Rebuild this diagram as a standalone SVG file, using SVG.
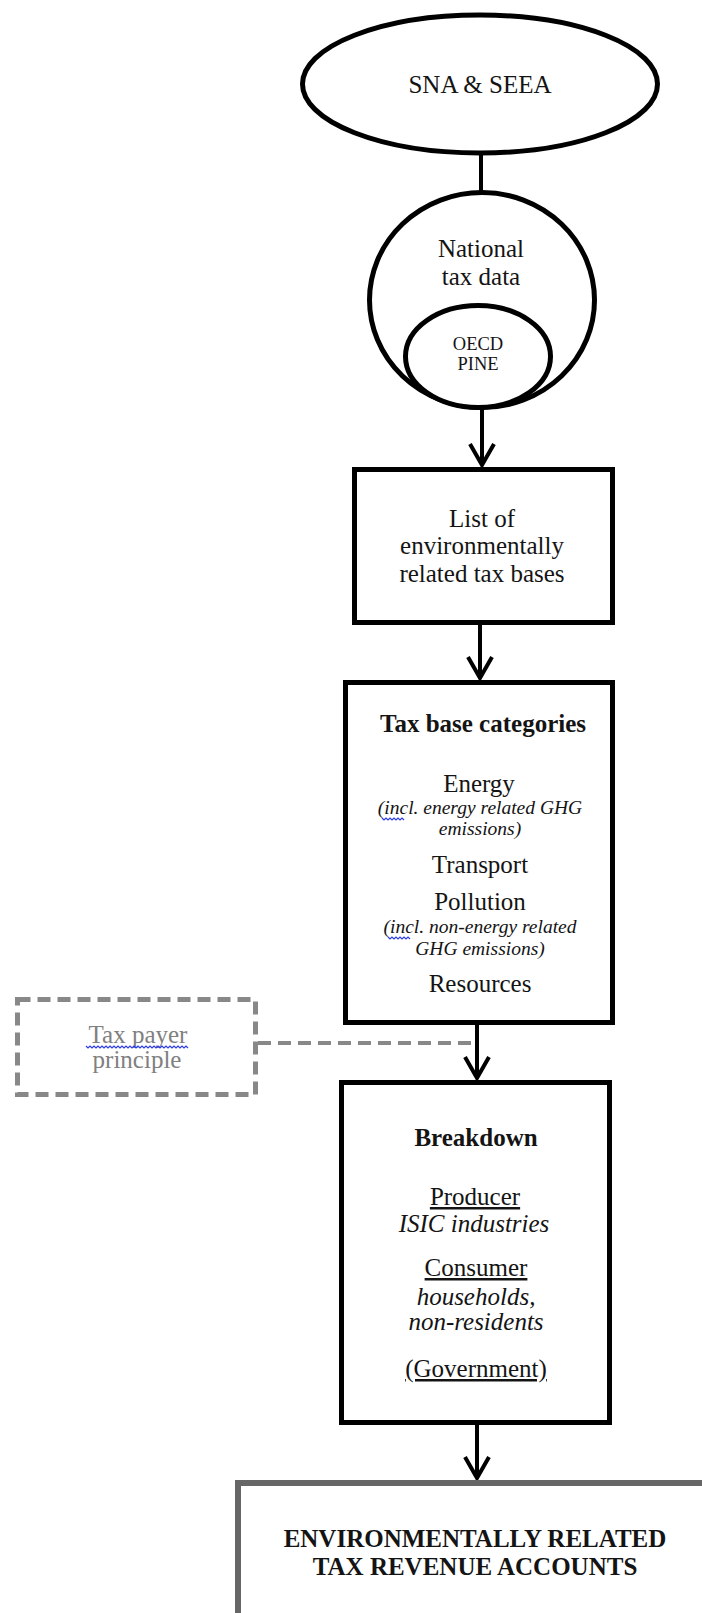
<svg xmlns="http://www.w3.org/2000/svg" width="702" height="1613" viewBox="0 0 702 1613">
<defs>
<style>
.t{font-family:"Liberation Serif","Times New Roman",serif;fill:#141414;text-anchor:middle}
.n{font-size:25px}
.b{font-size:25px;font-weight:bold}
.i{font-size:19.5px;font-style:italic}
.ib{font-size:25px;font-style:italic}
.s{font-size:18.5px}
.g{fill:#808080}
.shape{fill:#fff;stroke:#000;stroke-width:5}
.conn{fill:none;stroke:#000;stroke-width:4}
.dash{fill:none;stroke:#888;stroke-width:5;stroke-dasharray:13 7}
.wavy{fill:none;stroke:#2b3cf0;stroke-width:1.2}
</style>
<marker id="arr" viewBox="-24 -14 28 28" markerWidth="28" markerHeight="28" refX="0" refY="0" orient="auto" markerUnits="userSpaceOnUse">
<path d="M-21,-12 L0,0 L-21,12" fill="none" stroke="#000" stroke-width="4"/>
</marker>
</defs>

<g id="connectors">
<line class="conn" x1="481" y1="152" x2="481" y2="192"/>
<line class="conn" x1="482" y1="408" x2="482" y2="465" marker-end="url(#arr)"/>
<line class="conn" x1="480" y1="624" x2="480" y2="678" marker-end="url(#arr)"/>
<line class="conn" x1="477" y1="1024" x2="477" y2="1078" marker-end="url(#arr)"/>
<line class="conn" x1="477" y1="1424" x2="477" y2="1478" marker-end="url(#arr)"/>
<line class="dash" style="stroke-width:4" x1="258" y1="1043" x2="472" y2="1043"/>
</g>

<g id="sna">
<ellipse class="shape" cx="480" cy="84" rx="177.5" ry="69"/>
<text class="t n" x="480" y="93">SNA &amp; SEEA</text>
</g>

<g id="national">
<ellipse class="shape" cx="482" cy="300" rx="112.5" ry="107.5"/>
<text class="t n" x="481" y="257">National</text>
<text class="t n" x="481" y="285">tax data</text>
</g>

<g id="pine">
<ellipse class="shape" cx="478" cy="356.5" rx="72.5" ry="51"/>
<text class="t s" x="478" y="350">OECD</text>
<text class="t s" x="478" y="370">PINE</text>
</g>

<g id="list">
<rect class="shape" x="354.5" y="469.5" width="258" height="153"/>
<text class="t n" x="482" y="527">List of</text>
<text class="t n" x="482" y="554">environmentally</text>
<text class="t n" x="482" y="582">related tax bases</text>
</g>

<g id="categories">
<rect class="shape" x="345.5" y="682.5" width="267" height="340"/>
<text class="t b" x="483" y="732">Tax base categories</text>
<text class="t n" x="479" y="792">Energy</text>
<text class="t i" x="480" y="814">(incl. energy related GHG</text>
<text class="t i" x="480" y="835">emissions)</text>
<path class="wavy" d="M382,818 l2,2 l2,-2 l2,2 l2,-2 l2,2 l2,-2 l2,2 l2,-2 l2,2 l2,-2 l2,2"/>
<text class="t n" x="480" y="873">Transport</text>
<text class="t n" x="480" y="910">Pollution</text>
<text class="t i" x="480" y="933">(incl. non-energy related</text>
<text class="t i" x="480" y="955">GHG emissions)</text>
<path class="wavy" d="M388,937 l2,2 l2,-2 l2,2 l2,-2 l2,2 l2,-2 l2,2 l2,-2 l2,2 l2,-2 l2,2"/>
<text class="t n" x="480" y="992">Resources</text>
</g>

<g id="taxpayer">
<rect class="dash" x="17.5" y="999.5" width="238" height="95"/>
<text class="t n g" x="138" y="1043">Tax payer</text>
<path class="wavy" d="M86,1046 l2,2 l2,-2 l2,2 l2,-2 l2,2 l2,-2 l2,2 l2,-2 l2,2 l2,-2 l2,2 l2,-2 l2,2 l2,-2 l2,2 l2,-2 l2,2 l2,-2 l2,2 l2,-2 l2,2 l2,-2 l2,2 l2,-2 l2,2 l2,-2 l2,2 l2,-2 l2,2 l2,-2 l2,2 l2,-2 l2,2 l2,-2 l2,2 l2,-2 l2,2 l2,-2 l2,2 l2,-2 l2,2 l2,-2 l2,2 l2,-2 l2,2 l2,-2 l2,2 l2,-2 l2,2 l2,-2 l2,2"/>
<text class="t n g" x="137" y="1068">principle</text>
</g>

<g id="breakdown">
<rect class="shape" x="341.5" y="1082.5" width="268" height="340"/>
<text class="t b" x="476" y="1146">Breakdown</text>
<text class="t n" x="475" y="1205" text-decoration="underline">Producer</text>
<text class="t ib" x="474" y="1232">ISIC industries</text>
<text class="t n" x="476" y="1276" text-decoration="underline">Consumer</text>
<text class="t ib" x="476" y="1305">households,</text>
<text class="t ib" x="476" y="1330">non-residents</text>
<text class="t n" x="476" y="1377" text-decoration="underline">(Government)</text>
</g>

<g id="accounts">
<rect x="238" y="1483" width="520" height="200" fill="#fff" stroke="#666" stroke-width="6"/>
<text class="t b" x="475" y="1547">ENVIRONMENTALLY RELATED</text>
<text class="t b" x="475" y="1575">TAX REVENUE ACCOUNTS</text>
</g>
</svg>
